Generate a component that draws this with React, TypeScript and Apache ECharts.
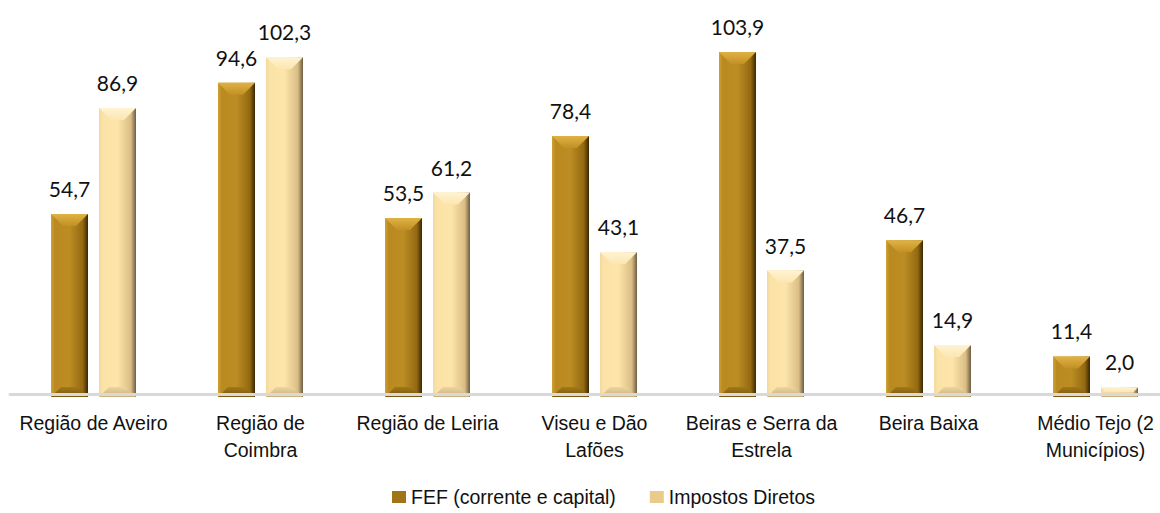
import React, { useEffect, useRef } from "react";
import * as echarts from "echarts";

const categories = [
  "Região de Aveiro",
  "Região de\nCoimbra",
  "Região de Leiria",
  "Viseu e Dão\nLafões",
  "Beiras e Serra da\nEstrela",
  "Beira Baixa",
  "Médio Tejo (2\nMunicípios)",
];
const fefValues = [54.7, 94.6, 53.5, 78.4, 103.9, 46.7, 11.4];
const impostosValues = [86.9, 102.3, 61.2, 43.1, 37.5, 14.9, 2.0];
const seriesNames = ["FEF (corrente e capital)", "Impostos Diretos"];

const palettes = [
  {
    body: ["#CFA136", "#BA8A20", "#BC8D24", "#936911", "#3A2704"],
    top: ["#E0B244", "#C29024"],
    bottom: ["#A27819", "#77560F"],
    legend: "#A07518",
  },
  {
    body: ["#F3D9A0", "#FBE2A6", "#FDE4A8", "#D9BD85", "#6E5D42"],
    top: ["#FFF3D2", "#FCE6B0"],
    bottom: ["#EED4A0", "#C9AE7A"],
    legend: "#EBCB8A",
  },
];

const BAR_W = 37;
const OFFSET = 24;
const FONT_NARROW = "'Liberation Sans', Arial, sans-serif";

function makeRender(si: number) {
  const p = palettes[si];
  return (params: any, api: any) => {
    const cat = api.value(0);
    const v = api.value(1);
    const top = api.coord([cat, v]);
    const base = api.coord([cat, 0]);
    const cx = top[0] + (si === 0 ? -OFFSET : OFFSET);
    const x0 = cx - BAR_W / 2;
    const x1 = cx + BAR_W / 2;
    const y0 = top[1];
    const y1 = base[1] + 3;
    const h = y1 - y0;
    const b = Math.min(12, h / 2, BAR_W / 2);
    const bb = Math.min(10, h / 2);
    const children: any[] = [
      {
        type: "rect",
        shape: { x: x0, y: y0, width: BAR_W, height: h },
        style: {
          fill: new echarts.graphic.LinearGradient(0, 0, 1, 0, [
            { offset: 0, color: p.body[0] },
            { offset: 0.1, color: p.body[1] },
            { offset: 0.5, color: p.body[2] },
            { offset: 0.86, color: p.body[3] },
            { offset: 1, color: p.body[4] },
          ]),
        },
      },
      {
        type: "polygon",
        shape: {
          points: [
            [x0, y1],
            [x0 + bb, y1 - bb],
            [x1 - bb, y1 - bb],
            [x1, y1],
          ],
        },
        style: {
          fill: new echarts.graphic.LinearGradient(0, 0, 0, 1, [
            { offset: 0, color: p.bottom[0] },
            { offset: 1, color: p.bottom[1] },
          ]),
        },
      },
      {
        type: "polygon",
        shape: {
          points: [
            [x0, y0],
            [x1, y0],
            [x1 - b, y0 + b],
            [x0 + b, y0 + b],
          ],
        },
        style: {
          fill: new echarts.graphic.LinearGradient(0, 0, 0, 1, [
            { offset: 0, color: p.top[0] },
            { offset: 1, color: p.top[1] },
          ]),
        },
      },
      {
        type: "text",
        x: cx,
        y: y0 - 15,
        style: {
          text: v.toFixed(1).replace(".", ","),
          align: "center",
          verticalAlign: "bottom",
          fontFamily: "Lato, 'Open Sans', sans-serif",
          fontSize: 21,
          fill: "#111",
        },
      },
    ];
    return { type: "group", children };
  };
}

export default function App() {
  const ref = useRef<HTMLDivElement>(null);
  useEffect(() => {
    if (!ref.current) return;
    const chart = echarts.init(ref.current, null, { renderer: "svg" });
    const series: any[] = [fefValues, impostosValues].map((vals, si) => ({
      type: "custom",
      name: seriesNames[si],
      renderItem: makeRender(si),
      itemStyle: { color: palettes[si].legend },
      data: vals.map((v, i) => [i, v]),
      encode: { x: 0, y: 1 },
      z: 2,
    }));
    chart.setOption({
      animation: false,
      grid: { left: 10, right: 11, top: 32, bottom: 119, containLabel: false },
      legend: {
        bottom: 1,
        left: 387,
        itemWidth: 14,
        itemHeight: 12,
        itemGap: 34,
        icon: "rect",
        textStyle: {
          fontFamily: FONT_NARROW,
          fontSize: 19.5,
          color: "#111",
        },
        data: seriesNames,
      },
      xAxis: {
        type: "category",
        data: categories,
        z: 5,
        axisLine: { show: true, lineStyle: { color: "#D9D9D9", width: 3 } },
        axisTick: { show: false },
        axisLabel: {
          interval: 0,
          margin: 15,
          fontFamily: FONT_NARROW,
          fontSize: 19.5,
          lineHeight: 27,
          color: "#111",
        },
      },
      yAxis: {
        type: "value",
        min: 0,
        max: 110,
        show: false,
        splitLine: { show: false },
      },
      series,
    });
    return () => chart.dispose();
  }, []);
  return (
    <div
      style={{ position: "absolute", left: 0, top: 0, width: 1160, height: 513, overflow: "hidden", background: "#fff" }}
    >
      <div ref={ref} style={{ width: 1190, height: 513 }} />
    </div>
  );
}
